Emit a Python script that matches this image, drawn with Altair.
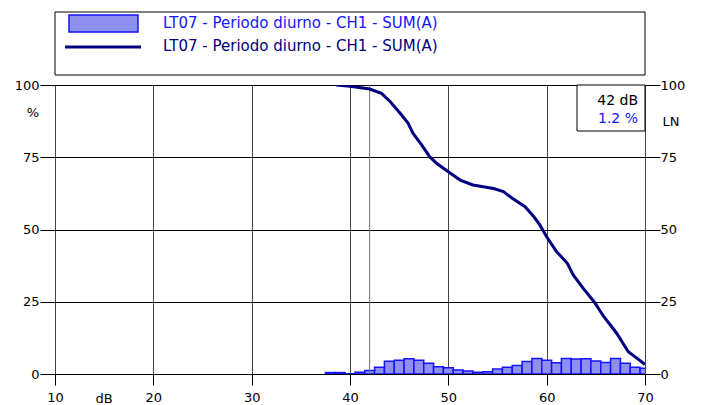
import altair as alt
import pandas as pd

FONT = "DejaVu Sans"

# Histogram (distribution) : dB bins and % of time
bins = list(range(38, 71))
hist_pct = [0.5, 0.5, 0.1, 0.6, 1.2, 2.3, 4.4, 4.8, 5.3, 4.8, 3.7, 2.5, 2.2,
            1.4, 1.0, 0.6, 0.8, 1.7, 2.3, 2.9, 4.3, 5.4, 4.8, 3.9, 5.4, 5.2,
            5.3, 4.5, 4.0, 5.4, 3.7, 2.3, 2.0]

# LN cumulative curve
ln_db = [38.6, 40.0, 42.0, 43.2, 44.1, 45.1, 45.9, 46.4, 47.3, 48.1, 48.8,
         50.0, 51.2, 52.5, 54.6, 55.6, 56.5, 57.8, 58.7, 59.3, 60.0, 61.0,
         62.1, 62.7, 63.7, 64.8, 65.8, 67.1, 68.3, 69.2, 70.0]
ln_pct = [100.0, 99.6, 98.6, 97.1, 94.2, 90.2, 86.8, 83.3, 79.2, 75.2, 72.9,
          70.0, 67.1, 65.4, 64.2, 63.1, 60.8, 57.9, 54.4, 51.6, 47.5, 42.4,
          38.3, 34.3, 29.7, 25.1, 19.9, 14.2, 7.7, 5.4, 3.3]

x_ticks = [10, 20, 30, 40, 50, 60, 70]
y_ticks = [0, 25, 50, 75, 100]
legend_labels = ["LT07 - Periodo diurno - CH1 - SUM(A)",
                 "LT07 - Periodo diurno - CH1 - SUM(A)"]
cursor_db = 42
cursor_pct = 1.2

BAR_FILL = "#8f8ff0"
BAR_STROKE = "#1414ff"
LINE_COLOR = "#000080"

hist_df = pd.DataFrame({"db": bins, "pct": hist_pct})
ln_df = pd.DataFrame({"db": ln_db, "pct": ln_pct})
one = pd.DataFrame({"k": [0]})

xscale = alt.Scale(domain=[10, 70], nice=False, zero=False)
yscale = alt.Scale(domain=[0, 100], nice=False)

x_axis = alt.Axis(values=x_ticks, tickSize=11, tickColor="black", labelFontSize=13,
                  labelFont=FONT, labelColor="black", labelPadding=6, grid=True,
                  gridColor="#444444", gridOpacity=1, domain=False, title=None,
                  labelFlush=False)
y_left = alt.Axis(values=y_ticks, tickSize=15, tickColor="black", labelFontSize=13,
                  labelFont=FONT, labelColor="black", labelPadding=1, grid=True,
                  gridColor="black", gridOpacity=1, domain=False, title=None,
                  orient="left", labelFlush=False)
y_right = alt.Axis(values=y_ticks, tickSize=15, tickColor="black", labelFontSize=13,
                   labelFont=FONT, labelColor="black", labelPadding=0, grid=False,
                   domain=False, title=None, orient="right", labelFlush=False)

bars = alt.Chart(hist_df).transform_calculate(
    x0="datum.db - 0.5", x1="datum.db + 0.5"
).mark_rect(fill=BAR_FILL, stroke=BAR_STROKE, strokeWidth=1.5, clip=True).encode(
    x=alt.X("x0:Q", scale=xscale, axis=x_axis),
    x2="x1:Q",
    y=alt.Y("pct:Q", scale=yscale, axis=y_left),
    y2=alt.datum(0),
)

cursor = alt.Chart(pd.DataFrame({"db": [cursor_db]})).mark_rule(
    color="#707070", strokeWidth=1).encode(x=alt.X("db:Q", scale=xscale))

line = alt.Chart(ln_df).mark_line(color=LINE_COLOR, strokeWidth=3, clip=True).encode(
    x=alt.X("db:Q", scale=xscale),
    y=alt.Y("pct:Q", scale=yscale, axis=y_right),
)

# legend box above the plot
leg_box = alt.Chart(one).mark_rect(fill="white", stroke="black", strokeWidth=1).encode(
    x=alt.value(0), x2=alt.value(590), y=alt.value(-73), y2=alt.value(-10))
leg_sym = alt.Chart(one).mark_rect(fill=BAR_FILL, stroke=BAR_STROKE, strokeWidth=1.5).encode(
    x=alt.value(14), x2=alt.value(83), y=alt.value(-70), y2=alt.value(-53))
leg_line = alt.Chart(one).mark_rule(color=LINE_COLOR, strokeWidth=3).encode(
    x=alt.value(10), x2=alt.value(86), y=alt.value(-38))
leg_t1 = alt.Chart(one).mark_text(text=legend_labels[0], font=FONT, fontSize=15,
                                  color="#1414ff", align="left", baseline="middle").encode(
    x=alt.value(108), y=alt.value(-62))
leg_t2 = alt.Chart(one).mark_text(text=legend_labels[1], font=FONT, fontSize=15,
                                  color=LINE_COLOR, align="left", baseline="middle").encode(
    x=alt.value(108), y=alt.value(-39))

# cursor info box
info_box = alt.Chart(one).mark_rect(fill="white", stroke="black", strokeWidth=1).encode(
    x=alt.value(522), x2=alt.value(590), y=alt.value(0), y2=alt.value(46))
info_t1 = alt.Chart(one).mark_text(text=f"{cursor_db} dB", font=FONT, fontSize=14,
                                   color="black", align="right", baseline="middle").encode(
    x=alt.value(583), y=alt.value(16))
info_t2 = alt.Chart(one).mark_text(text=f"{cursor_pct} %", font=FONT, fontSize=14,
                                   color="#1414ff", align="right", baseline="middle").encode(
    x=alt.value(583), y=alt.value(34))

# axis unit labels
pct_lbl = alt.Chart(one).mark_text(text="%", font=FONT, fontSize=13, color="black",
                                   align="center", baseline="middle").encode(
    x=alt.value(-22), y=alt.value(28))
ln_lbl = alt.Chart(one).mark_text(text="LN", font=FONT, fontSize=13, color="black",
                                  align="center", baseline="middle").encode(
    x=alt.value(616), y=alt.value(37))
db_lbl = alt.Chart(pd.DataFrame({"db": [15]})).mark_text(
    text="dB", font=FONT, fontSize=13, color="black", align="center", baseline="top").encode(
    x=alt.X("db:Q", scale=xscale), y=alt.value(308))

chart = alt.layer(
    bars, cursor, line, leg_box, leg_sym, leg_line, leg_t1, leg_t2,
    info_box, info_t1, info_t2, pct_lbl, ln_lbl, db_lbl
).properties(
    width=590, height=289,
    autosize=alt.AutoSizeParams(type="none"),
    padding={"left": 47, "top": 77, "right": 48, "bottom": 31},
    background="white",
).configure_view(stroke=None).configure(font=FONT)

chart.save("out.html", embed_options={"renderer": "svg", "actions": False})
